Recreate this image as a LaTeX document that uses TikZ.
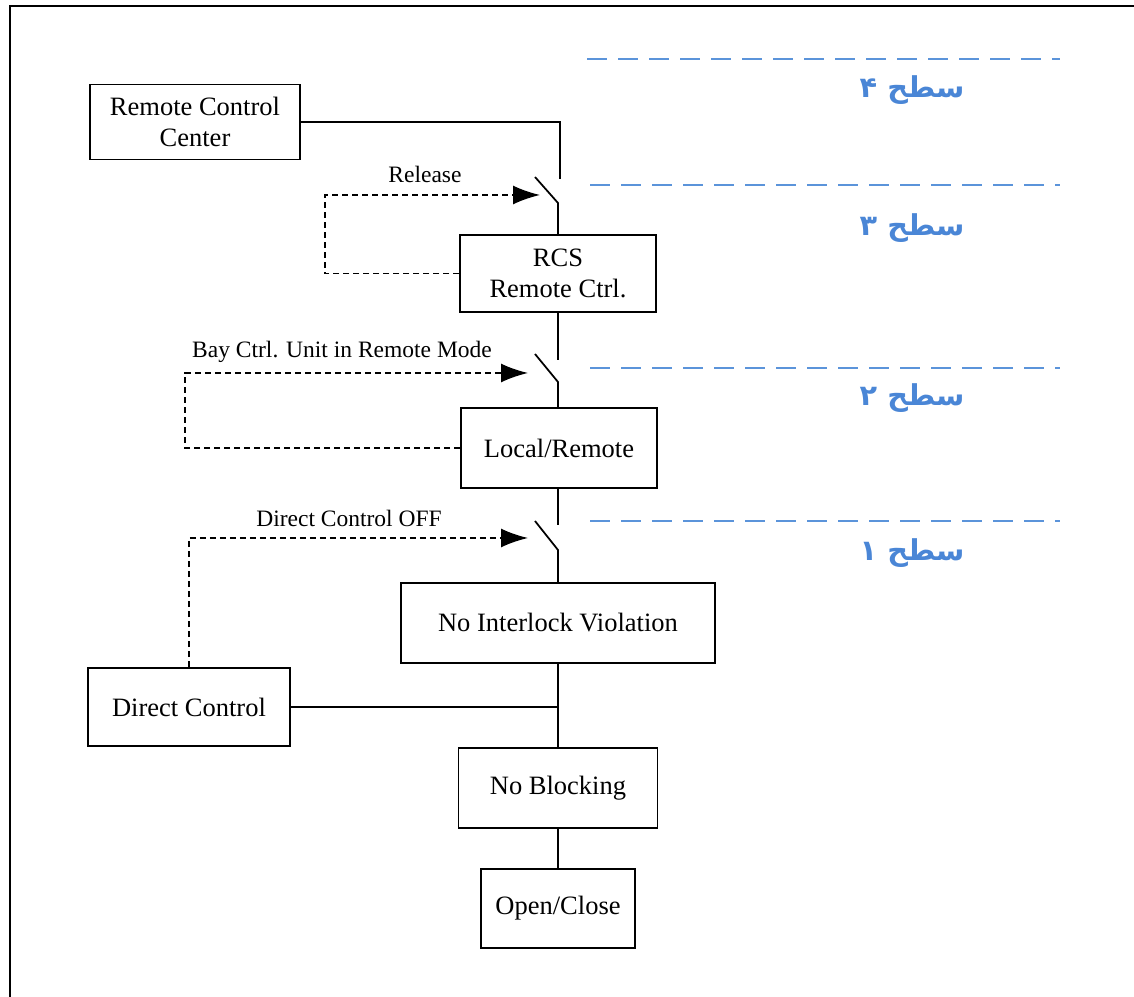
\documentclass[tikz,border=0pt]{standalone}
\usepackage{fontspec}
\setmainfont{Liberation Serif}
\newfontfamily\arabicfont[Script=Arabic]{DejaVu Sans}
\TeXXeTstate=1
\usetikzlibrary{arrows.meta}
\definecolor{levelblue}{RGB}{91,148,218}
\definecolor{leveltext}{RGB}{74,134,214}
\tikzset{
  box/.style={draw, line width=0.7pt, align=center, inner sep=2pt,
    font=\fontsize{10.6}{12.4}\selectfont},
  wire/.style={line width=0.7pt},
  cmd/.style={line width=0.7pt, dash pattern=on 2.4pt off 1.6pt,
    -{Latex[length=10.8pt,width=7.6pt]}},
  cmdlabel/.style={font=\fontsize{9.4}{11}\selectfont},
  levelline/.style={levelblue, line width=0.8pt, dash pattern=on 8pt off 4.4pt},
  levellabel/.style={text=leveltext, font=\arabicfont\bfseries\fontsize{11.5}{14}\selectfont}
}
\begin{document}
\begin{tikzpicture}[x=0.4pt, y=-0.4pt]
\useasboundingbox (0,0) rectangle (1134,997);
\draw[line width=0.8pt] (10,997) -- (10,6) -- (1134,6);

% boxes
\node[box, minimum width=84pt, minimum height=30pt] (rcc) at (195,122) {Remote Control\\Center};
\node[box, minimum width=78.4pt, minimum height=30.8pt] (rcs) at (558,273.5) {RCS\\Remote Ctrl.};
\node[box, minimum width=78.4pt, minimum height=32pt] (lr) at (559,448) {Local/Remote};
\node[box, minimum width=125.6pt, minimum height=32pt] (niv) at (558,623) {No Interlock Violation};
\node[box, minimum width=80.8pt, minimum height=31.2pt] (dc) at (189,707) {Direct Control};
\node[box, minimum width=79.6pt, minimum height=32pt] (nb) at (558,788) {No Blocking};
\node[box, minimum width=61.6pt, minimum height=31.6pt] (oc) at (558,908.5) {Open/Close};

% switch contacts
\coordinate (s4in) at (560,179);
\coordinate (s4out) at (558,203);
\coordinate (s4tip) at (535,177);
\coordinate (s3in) at (558,360);
\coordinate (s3out) at (558,382);
\coordinate (s3tip) at (535,354);
\coordinate (s2in) at (558,525);
\coordinate (s2out) at (558,550);
\coordinate (s2tip) at (535,521);

% wiring
\draw[wire] (rcc.east) -| (s4in);
\draw[wire] (s4tip) -- (s4out) -- (rcs.north -| s4out);
\draw[wire] (rcs.south) -- (s3in);
\draw[wire] (s3tip) -- (s3out) -- (lr.north -| s3out);
\draw[wire] (lr.south -| s2in) -- (s2in);
\draw[wire] (s2tip) -- (s2out) -- (niv.north -| s2out);
\draw[wire] (niv.south) -- (nb.north);
\draw[wire] (dc.east) -- (dc.east -| niv.south);
\draw[wire] (nb.south) -- (oc.north);

% release commands
\coordinate (a4) at (540,195);
\coordinate (a3) at (528,373);
\coordinate (a2) at (528,538);
\draw[cmd] (rcs.west) -| (325,195) -- (a4);
\draw[cmd] (lr.west) -| (185,373) -- (a3);
\draw[cmd] (dc.north) |- (a2);
\node[cmdlabel] (rel4) at (425,174) {Release};
\node[cmdlabel] (rel3) at (342,352) {Bay Ctrl. Unit in Remote Mode};
\node[cmdlabel] (rel2) at (349,518) {Direct Control OFF};

% levels
\draw[levelline] (587,59) -- (1060,59);
\draw[levelline] (590,185) -- (1060,185);
\draw[levelline] (590,368) -- (1060,368);
\draw[levelline] (590,521) -- (1060,521);
\node[levellabel] (lv4) at (912,90) {\beginR سطح ۴\endR};
\node[levellabel] (lv3) at (912,228) {\beginR سطح ۳\endR};
\node[levellabel] (lv2) at (912,398) {\beginR سطح ۲\endR};
\node[levellabel] (lv1) at (912,553) {\beginR سطح ۱\endR};
\end{tikzpicture}
\end{document}
